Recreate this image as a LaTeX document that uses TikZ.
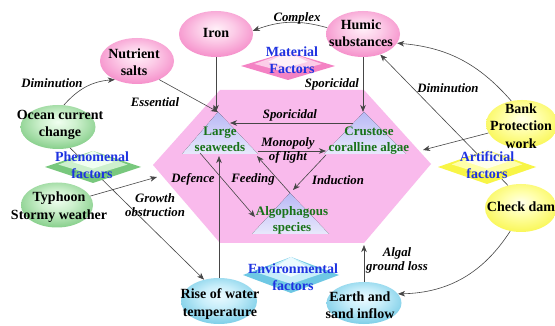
\documentclass[tikz,border=0pt]{standalone}
\usepackage{fontspec}
\setmainfont{Liberation Serif}
\usetikzlibrary{shapes.geometric,arrows.meta,calc}
\definecolor{pkC}{RGB}{255,240,248}
\definecolor{pkIn}{RGB}{252,205,232}
\definecolor{pkMid}{RGB}{244,130,196}
\definecolor{pkOut}{RGB}{228,40,140}
\definecolor{grC}{RGB}{240,255,240}
\definecolor{grIn}{RGB}{205,240,205}
\definecolor{grMid}{RGB}{120,200,125}
\definecolor{grOut}{RGB}{40,145,55}
\definecolor{yeC}{RGB}{255,255,235}
\definecolor{yeIn}{RGB}{255,255,170}
\definecolor{yeMid}{RGB}{248,245,70}
\definecolor{yeOut}{RGB}{225,215,0}
\definecolor{cyC}{RGB}{235,250,255}
\definecolor{cyIn}{RGB}{200,238,250}
\definecolor{cyMid}{RGB}{110,200,228}
\definecolor{cyOut}{RGB}{30,150,195}
\definecolor{hexpink}{RGB}{249,186,236}
\definecolor{lavT}{RGB}{185,185,245}
\definecolor{lavB}{RGB}{232,232,252}
\definecolor{fblue}{RGB}{30,50,225}
\definecolor{gtext}{RGB}{25,115,25}
\definecolor{lnc}{RGB}{70,70,70}
\pgfdeclareradialshading{pkshade}{\pgfpoint{0bp}{6bp}}{color(0bp)=(pkC); color(12bp)=(pkIn); color(32bp)=(pkMid); color(50bp)=(pkOut); color(64bp)=(pkOut)}
\pgfdeclareradialshading{grshade}{\pgfpoint{0bp}{6bp}}{color(0bp)=(grC); color(12bp)=(grIn); color(32bp)=(grMid); color(50bp)=(grOut); color(64bp)=(grOut)}
\pgfdeclareradialshading{yeshade}{\pgfpoint{0bp}{6bp}}{color(0bp)=(yeC); color(12bp)=(yeIn); color(32bp)=(yeMid); color(50bp)=(yeOut); color(64bp)=(yeOut)}
\pgfdeclareradialshading{cyshade}{\pgfpoint{0bp}{6bp}}{color(0bp)=(cyC); color(12bp)=(cyIn); color(32bp)=(cyMid); color(50bp)=(cyOut); color(64bp)=(cyOut)}
% nested diamonds: centre x, centre y, half width, half height, outer, middle, inner colour
\newcommand\facdiamond[7]{%
  \fill[#5] (#1-#3,#2) -- (#1,#2-#4) -- (#1+#3,#2) -- (#1,#2+#4) -- cycle;
  \fill[#6] (#1-0.72*#3,#2-0.15*#4) -- (#1,#2-#4) -- (#1+0.72*#3,#2-0.15*#4) -- (#1,#2+0.5*#4) -- cycle;
  \fill[#7] (#1-0.42*#3,#2-0.3*#4) -- (#1,#2-#4) -- (#1+0.42*#3,#2-0.3*#4) -- (#1,#2+0.1*#4) -- cycle;
}
\begin{document}
\begin{tikzpicture}[x=1pt,y=-1pt,
  ell/.style={ellipse, inner sep=0pt, shade},
  pinkel/.style={ell, shading=pkshade},
  greenel/.style={ell, shading=grshade},
  yellowel/.style={ell, shading=yeshade},
  cyanel/.style={ell, shading=cyshade},
  etxt/.style={font=\fontsize{14}{17.5}\selectfont\bfseries, align=center, inner sep=0pt},
  lab/.style={font=\fontsize{12.8}{14}\selectfont\bfseries\itshape, align=center, inner sep=0pt},
  ftxt/.style={font=\fontsize{14}{16.5}\selectfont\bfseries, text=fblue, align=center, inner sep=0pt},
  gtxt/.style={font=\fontsize{13}{16}\selectfont\bfseries, text=gtext, align=center, inner sep=0pt},
  tri/.style={top color=lavT, bottom color=lavB, draw=none},
  conn/.style={draw=lnc, line width=0.6pt},
  arr/.style={conn, -{Stealth[length=7pt,width=5.5pt,inset=2pt]}}
]
\useasboundingbox (0,0) rectangle (555,326);
\fill[white] (0,0) rectangle (555,326);

% hexagon
\coordinate (hTL) at (220,90);
\coordinate (hTR) at (364,90);
\coordinate (hR) at (431,164);
\coordinate (hBR) at (364,243);
\coordinate (hBL) at (220,243);
\coordinate (hL) at (153,165);
\fill[hexpink] (hTL) -- (hTR) -- (hR) -- (hBR) -- (hBL) -- (hL) -- cycle;

% triangles
\coordinate (lsA) at (218,112);
\coordinate (lsBL) at (182,154);
\coordinate (lsBR) at (258,154);
\coordinate (ccA) at (364,112);
\coordinate (ccBL) at (324,154);
\coordinate (ccBR) at (406,154);
\coordinate (algA) at (290,193);
\coordinate (algBL) at (252,234);
\coordinate (algBR) at (329,234);
\fill[tri] (lsA) -- (lsBR) -- (lsBL) -- cycle;
\fill[tri] (ccA) -- (ccBR) -- (ccBL) -- cycle;
\fill[tri] (algA) -- (algBR) -- (algBL) -- cycle;

% ellipses
\node[pinkel, minimum width=74pt, minimum height=46pt] (iron) at (216,34) {};
\node[pinkel, minimum width=74pt, minimum height=46pt] (nutr) at (137,61) {};
\node[pinkel, minimum width=74pt, minimum height=46pt] (hum) at (363,34) {};
\node[greenel, minimum width=75pt, minimum height=44pt] (ocean) at (58,127) {};
\node[greenel, minimum width=72pt, minimum height=45pt] (typh) at (57,205) {};
\node[cyanel, minimum width=76pt, minimum height=46pt] (rise) at (219,301) {};
\node[cyanel, minimum width=75pt, minimum height=42pt] (earth) at (364,303) {};
\node[yellowel, minimum width=72pt, minimum height=48pt] (bank) at (522,124) {};
\node[yellowel, minimum width=72pt, minimum height=48pt] (check) at (521,208) {};

% inner coordinates
\coordinate (ccS) at (353,123);
\coordinate (lsS) at (230,123);
\coordinate (lsM) at (258,151);
\coordinate (ccM) at (326,151);
\coordinate (lsF) at (257,156);
\coordinate (ccI) at (326,155);
\coordinate (algI) at (293,190);
\coordinate (lsD) at (200,153);
\coordinate (algD) at (255,217);
\coordinate (lsB) at (219,156);
\coordinate (hexT) at (157,177);
\coordinate (ccR) at (423,150);
\coordinate (hexB) at (364,245);

% connectors
\draw[arr] (hum.170) to[bend right=18] (iron.5);
\draw[arr] (ocean.75) to[bend left=22] (nutr.220);
\draw[arr] (nutr.-40) -- (lsA);
\draw[arr] (iron.south) -- (iron.south |- lsA);
\draw[arr] (hum.south) -- (hum.south |- ccA);
\draw[arr] (ccS) -- (lsS);
\draw[arr] (lsM) -- (ccM);
\draw[arr] (algA) -- (lsF);
\draw[arr] (ccI) -- (algI);
\draw[arr] (lsD) -- (algD);
\draw[arr] (rise.north) -- (rise.north |- lsB);
\draw[arr] (typh.15) -- (hexT);
\draw[arr] (ocean.-60) -- (rise.125);
\draw[arr] (bank.115) to[bend right=22] (hum.-15);
\draw[arr] (check.120) -- (hum.-50);
\draw[arr] (bank.195) -- (ccR);
\draw[arr] (check.245) to[bend left=28] (earth.15);
\draw[arr] (earth.north) -- (earth.north |- hexB);

% factor diamonds
\facdiamond{288}{66}{47}{14}{pkMid}{pkIn}{pkC}
\facdiamond{93}{167}{48}{16}{grMid}{grIn}{grC}
\facdiamond{487}{167}{49}{17}{yeMid}{yeIn}{yeC}
\facdiamond{291}{275}{48}{18}{cyMid}{cyIn}{cyC}
\node[ftxt] (fmat) at (292,60) {Material\\Factors};
\node[ftxt] (fphe) at (92,165) {Phenomenal\\factors};
\node[ftxt] (fart) at (487,165) {Artificial\\factors};
\node[ftxt] (fenv) at (293,277) {Environmental\\factors};

% ellipse texts
\node[etxt] (tiron) at (216,33) {Iron};
\node[etxt] (tnutr) at (134,62) {Nutrient\\salts};
\node[etxt] (thum) at (361,33) {Humic\\substances};
\node[etxt] (tocean) at (60,125) {Ocean current\\change};
\node[etxt] (ttyph) at (59,207) {Typhoon\\Stormy weather};
\node[etxt] (trise) at (220,304) {Rise of water\\temperature};
\node[etxt] (tearth) at (360,305) {Earth and\\sand inflow};
\node[etxt] (tbank) at (521,126) {Bank\\Protection\\work};
\node[etxt] (tcheck) at (521,207) {Check dam};

% triangle texts
\node[gtxt] (tls) at (220,139) {Large\\seaweeds};
\node[gtxt] (tcc) at (369,141) {Crustose\\coralline algae};
\node[gtxt] (talg) at (292,220) {Algophagous\\species};

% edge labels
\node[lab] (lcomplex) at (297,18) {Complex};
\node[lab] (ldim1) at (52,83) {Diminution};
\node[lab] (less) at (155,102) {Essential};
\node[lab] (lspo1) at (332,84) {Sporicidal};
\node[lab] (lspo2) at (290,115) {Sporicidal};
\node[lab] (lmono) at (288,150) {Monopoly\\of light};
\node[lab] (lfeed) at (253,179) {Feeding};
\node[lab] (lind) at (338,180) {Induction};
\node[lab] (ldef) at (193,179) {Defence};
\node[lab] (lgrowth) at (155,205) {Growth\\obstruction};
\node[lab] (ldim2) at (448,88) {Diminution};
\node[lab] (lalgal) at (397,260) {Algal\\ground loss};
\end{tikzpicture}
\end{document}
